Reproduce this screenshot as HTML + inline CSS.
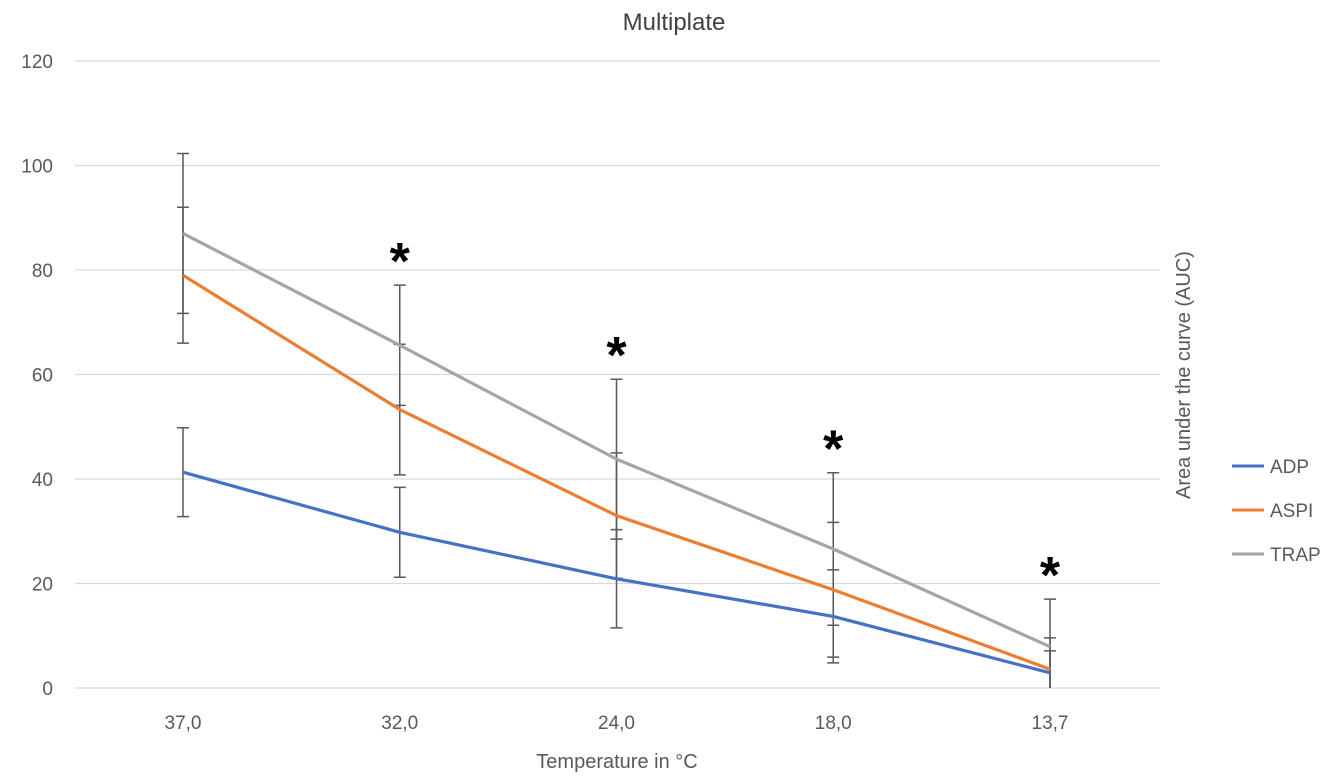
<!DOCTYPE html>
<html><head><meta charset="utf-8"><style>
body{margin:0;background:#fff;}
svg{display:block;font-family:"Liberation Sans",sans-serif;}
</style></head><body>
<svg id="chart" width="1343" height="781" viewBox="0 0 1343 781">
<text x="674" y="30" text-anchor="middle" font-size="24" fill="#404040">Multiplate</text>
<g id="grid"></g><g id="yt"></g><g id="xt"></g><g id="err"></g><g id="lines"></g><g id="stars"></g>
<text x="617" y="768" text-anchor="middle" font-size="20" fill="#595959">Temperature in °C</text>
<text transform="translate(1190,375) rotate(-90)" text-anchor="middle" font-size="20" fill="#595959">Area under the curve (AUC)</text>
<g>
<line x1="1232" y1="466" x2="1264" y2="466" stroke="#4472C4" stroke-width="3"/><text x="1270" y="473" font-size="19" fill="#595959">ADP</text>
<line x1="1232" y1="510" x2="1264" y2="510" stroke="#ED7D31" stroke-width="3"/><text x="1270" y="517" font-size="19" fill="#595959">ASPI</text>
<line x1="1232" y1="554" x2="1264" y2="554" stroke="#A5A5A5" stroke-width="3"/><text x="1270" y="561" font-size="19" fill="#595959">TRAP</text>
</g>
</svg>
<script>
const categories=["37,0","32,0","24,0","18,0","13,7"];
const yTicks=[0,20,40,60,80,100,120];
const adp=[41.3,29.8,20.9,13.7,2.9];
const aspi=[79,53.3,33,18.8,3.6];
const trap=[87,65.6,43.8,26.6,7.9];
const adpErr=[8.5,8.6,9.4,8.9,4.2];
const aspiErr=[13,12.5,12,12.9,6];
const trapErr=[15.3,11.5,15.3,14.6,9.1];
const significant=[false,true,true,true,true];
const NS="http://www.w3.org/2000/svg";
const y=v=>688-v*(627/120);
const x=i=>183+i*216.75;
function mk(tag,attrs,parent,txt){const e=document.createElementNS(NS,tag);for(const k in attrs)e.setAttribute(k,attrs[k]);if(txt!==undefined)e.textContent=txt;document.getElementById(parent).appendChild(e);return e;}
yTicks.forEach(t=>{
 const g=mk('line',{x1:75,x2:1160,y1:y(t),y2:y(t),stroke:'#D9D9D9','stroke-width':1.3},'grid');
 
 
 const l=mk('text',{x:53,y:y(t)+7,'text-anchor':'end','font-size':19,fill:'#595959'},'yt',String(t));
 
 
});
categories.forEach((c,i)=>{
 const l=mk('text',{x:x(i),y:729,'text-anchor':'middle','font-size':19,fill:'#595959'},'xt',c);
 
 
 if(significant[i]){
  const s=mk('text',{x:x(i),y:Math.min(y(trap[i]+trapErr[i]),y(aspi[i]+aspiErr[i]))-6,'text-anchor':'middle','font-size':52,'font-weight':'bold',fill:'#000'},'stars','*');
  
  
 }
});
[[adp,adpErr],[aspi,aspiErr],[trap,trapErr]].forEach(([d,e])=>{
 d.forEach((v,i)=>{
  const lo=Math.max(0,v-e[i]),hi=v+e[i];
  const b=mk('path',{d:`M${x(i)},${y(lo)}V${y(hi)}M${x(i)-6},${y(hi)}h12`+(v-e[i]>0?`M${x(i)-6},${y(lo)}h12`:''),stroke:'#595959','stroke-width':1.5,fill:'none'},'err');
  
  
 });
});
[[adp,'#4472C4','adp-line'],[aspi,'#ED7D31','aspi-line'],[trap,'#A5A5A5','trap-line']].forEach(([d,c,n])=>{
 const p=mk('polyline',{points:d.map((v,i)=>x(i)+','+y(v)).join(' '),fill:'none',stroke:c,'stroke-width':3.2,'stroke-linejoin':'round'},'lines');
 
 
});
</script>
</body></html>
